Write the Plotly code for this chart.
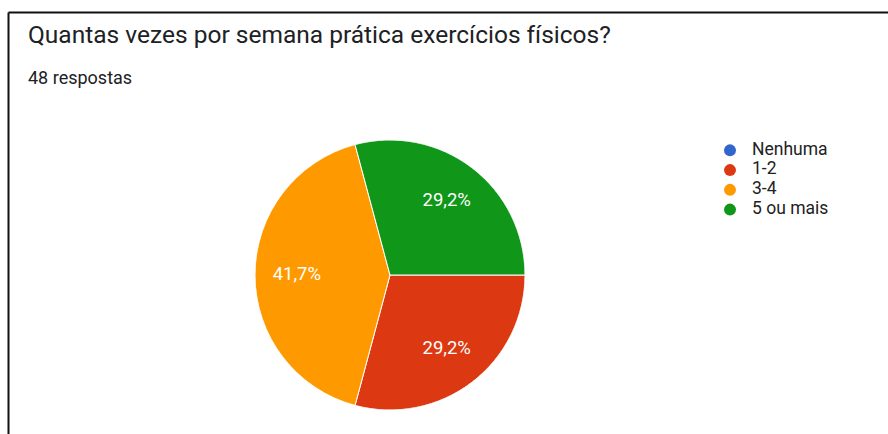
import plotly.graph_objects as go

categories = ["Nenhuma", "1-2", "3-4", "5 ou mais"]
values = [0, 14, 20, 14]
colors = ["#3366cc", "#dc3912", "#ff9900", "#109618"]
title_text = "Quantas vezes por semana prática exercícios físicos?"
subtitle_text = "48 respostas"

W, H = 888, 434
FONT = "Roboto, Arial, sans-serif"
START = 90  # first slice starts at 3 o'clock, going clockwise

total = sum(values)
cum = 0
mid_angles, widths, pct_text = [], [], []
for v in values:
    mid_angles.append(START + 360 * (cum + v / 2) / total)
    widths.append(360 * v / total)
    pct_text.append("" if v == 0 else f"{100 * v / total:.1f}%".replace(".", ","))
    cum += v

pie_dom = dict(x=[255 / W, 525 / W], y=[1 - 410 / H, 1 - 140 / H])

fig = go.Figure()
# pie slices drawn as polar wedges
fig.add_trace(go.Barpolar(
    r=[1] * len(values), theta=mid_angles, width=widths, base=0,
    marker=dict(color=colors, line=dict(color="white", width=1)),
    text=categories, hovertemplate="%{text}<extra></extra>", showlegend=False,
))
# percentage labels
fig.add_trace(go.Scatterpolar(
    r=[0.69] * len(values), theta=mid_angles, text=pct_text, mode="text",
    textfont=dict(color="white", size=18.5, family=FONT),
    showlegend=False, hoverinfo="skip", cliponaxis=False,
))
# legend: circle markers + labels on a hidden categorical axis
fig.add_trace(go.Scatter(
    x=[0] * len(categories), y=categories, mode="markers",
    marker=dict(symbol="circle", size=12, color=colors),
    showlegend=False, hoverinfo="skip", cliponaxis=False,
))
fig.add_trace(go.Scatter(
    x=[22] * len(categories), y=categories, mode="text", text=categories,
    textposition="middle right",
    textfont=dict(size=17.5, color="#222222", family=FONT),
    showlegend=False, hoverinfo="skip", cliponaxis=False,
))

fig.update_layout(
    width=W, height=H, margin=dict(l=0, r=0, t=0, b=0),
    paper_bgcolor="white", plot_bgcolor="rgba(0,0,0,0)",
    font=dict(family=FONT, color="#212121"),
    showlegend=False,
    polar=dict(domain=pie_dom, bgcolor="rgba(0,0,0,0)", hole=0,
               radialaxis=dict(range=[0, 1], visible=False, showgrid=False),
               angularaxis=dict(rotation=90, direction="clockwise", visible=False, showgrid=False)),
    xaxis=dict(domain=[730 / W, 1], range=[0, 158], visible=False, fixedrange=True),
    yaxis=dict(domain=[1 - 219.5 / H, 1 - 140.5 / H], range=[3.5, -0.5],
               type="category", visible=False, fixedrange=True),
    annotations=[
        dict(text=title_text, x=26 / W, y=1 - 34.5 / H, xref="paper", yref="paper",
             xanchor="left", yanchor="middle", showarrow=False,
             font=dict(size=24.5, color="#202124")),
        dict(text=subtitle_text, x=26 / W, y=1 - 77 / H, xref="paper", yref="paper",
             xanchor="left", yanchor="middle", showarrow=False,
             font=dict(size=18, color="#202124")),
    ],
    shapes=[
        dict(type="line", xref="paper", yref="paper", x0=8.5 / W, x1=1, y0=1 - 12.5 / H, y1=1 - 12.5 / H,
             line=dict(color="#111111", width=2)),
        dict(type="line", xref="paper", yref="paper", x0=8.5 / W, x1=8.5 / W, y0=0, y1=1 - 12.5 / H,
             line=dict(color="#111111", width=2)),
    ],
)
fig.write_html("out.html", config={"displayModeBar": False},
               post_script="document.body.style.margin='0';")
